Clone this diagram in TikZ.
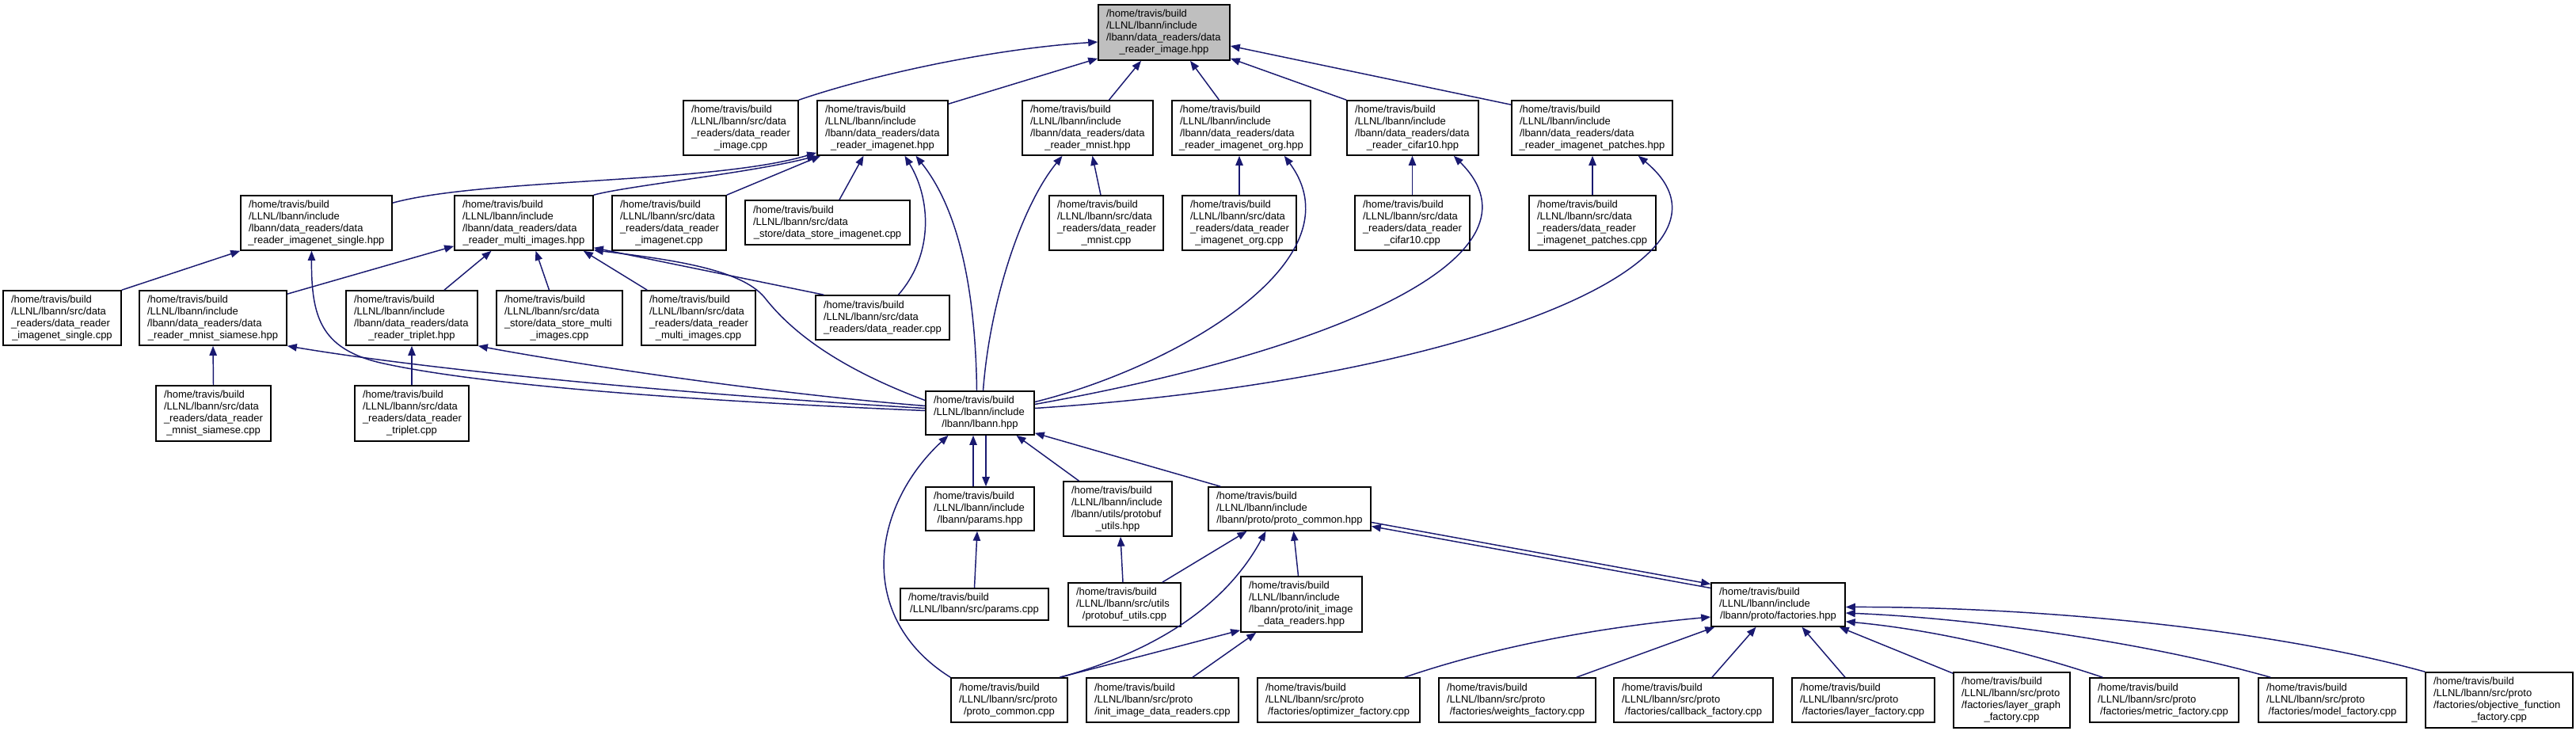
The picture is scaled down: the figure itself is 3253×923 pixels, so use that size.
\documentclass[tikz,border=0pt]{standalone}
\usepackage{fontspec}
\setmainfont{Liberation Sans}
\usetikzlibrary{arrows.meta}
\definecolor{navy}{HTML}{191970}
\definecolor{dgray}{HTML}{BFBFBF}
\newcommand\cl[1]{\makebox[\hsize][c]{#1}}
\newcommand\Lhb{\mbox{/home/travis/build}\\}
\newcommand\Linc{\mbox{/LLNL/lbann/include}\\}
\newcommand\Lsrcd{\mbox{/LLNL/lbann/src/data}\\}
\newcommand\Ldr{\mbox{/lbann/data\_readers/data}\\}
\newcommand\Lrd{\mbox{\_readers/data\_reader}\\}
\newcommand\Lsrcp{\mbox{/LLNL/lbann/src/proto}\\}
\tikzset{
  dbox/.style={draw=black, fill=white, line width=1.2pt, inner xsep=0pt, inner ysep=0pt,
    align=left, font=\fontsize{9.75}{11.25}\selectfont},
  lnk/.style={draw=navy, line width=1.1pt, -{Triangle[length=9pt,width=7pt]}}
}
\newcommand\dnode[7][]{%
  \pgfmathsetmacro\dW{(#5-#3)*0.75}%
  \pgfmathsetmacro\dH{(#6-#4)*0.75}%
  \pgfmathsetmacro\dT{(#5-#3)*0.75-15}%
  \node[dbox,#1,minimum width=\dW pt,minimum height=\dH pt,text width=\dT pt] (#2) at ({(#3+#5)/2},{(#4+#6)/2}) {#7};%
}
\begin{document}
\begin{tikzpicture}[x=0.75pt,y=-0.75pt]
\useasboundingbox (0,0) rectangle (3253,923);
% row 0
\dnode[fill=dgray]{N0}{1387}{6}{1553}{76}{\Lhb\Linc\Ldr\cl{\_reader\_image.hpp}}
% row 1
\dnode{N1}{863}{127}{1008}{196}{\Lhb\Lsrcd\Lrd\cl{\_image.cpp}}
\dnode{N2}{1032}{127}{1197}{196}{\Lhb\Linc\Ldr\cl{\_reader\_imagenet.hpp}}
\dnode{N3}{1291}{127}{1456}{196}{\Lhb\Linc\Ldr\cl{\_reader\_mnist.hpp}}
\dnode{N4}{1480}{127}{1655}{196}{\Lhb\Linc\Ldr\cl{\_reader\_imagenet\_org.hpp}}
\dnode{N5}{1701}{127}{1867}{196}{\Lhb\Linc\Ldr\cl{\_reader\_cifar10.hpp}}
\dnode{N6}{1909}{127}{2112}{196}{\Lhb\Linc\Ldr\cl{\_reader\_imagenet\_patches.hpp}}
% row 2
\dnode{N7}{304}{247}{495}{316}{\Lhb\Linc\Ldr\cl{\_reader\_imagenet\_single.hpp}}
\dnode{N8}{574}{247}{749}{316}{\Lhb\Linc\Ldr\cl{\_reader\_multi\_images.hpp}}
\dnode{N9}{773}{247}{917}{316}{\Lhb\Lsrcd\Lrd\cl{\_imagenet.cpp}}
\dnode{N10}{941}{253}{1149}{309}{\Lhb\Lsrcd\cl{\_store/data\_store\_imagenet.cpp}}
\dnode{N11}{1325}{247}{1469}{316}{\Lhb\Lsrcd\Lrd\cl{\_mnist.cpp}}
\dnode{N12}{1493}{247}{1637}{316}{\Lhb\Lsrcd\Lrd\cl{\_imagenet\_org.cpp}}
\dnode{N13}{1711}{247}{1856}{316}{\Lhb\Lsrcd\Lrd\cl{\_cifar10.cpp}}
\dnode{N14}{1931}{247}{2091}{316}{\Lhb\Lsrcd\Lrd\cl{\_imagenet\_patches.cpp}}
% row 3
\dnode{N15}{4}{367}{153}{436}{\Lhb\Lsrcd\Lrd\cl{\_imagenet\_single.cpp}}
\dnode{N16}{176}{367}{362}{436}{\Lhb\Linc\Ldr\cl{\_reader\_mnist\_siamese.hpp}}
\dnode{N17}{437}{367}{603}{436}{\Lhb\Linc\Ldr\cl{\_reader\_triplet.hpp}}
\dnode{N18}{627}{367}{786}{436}{\Lhb\Lsrcd\mbox{\_store/data\_store\_multi}\\\cl{\_images.cpp}}
\dnode{N19}{810}{367}{954}{436}{\Lhb\Lsrcd\Lrd\cl{\_multi\_images.cpp}}
\dnode{N20}{1030}{373}{1199}{429}{\Lhb\Lsrcd\cl{\_readers/data\_reader.cpp}}
% row 4
\dnode{N21}{197}{487}{342}{557}{\Lhb\Lsrcd\Lrd\cl{\_mnist\_siamese.cpp}}
\dnode{N22}{448}{487}{592}{557}{\Lhb\Lsrcd\Lrd\cl{\_triplet.cpp}}
\dnode{N23}{1169}{494}{1306}{549}{\Lhb\Linc\cl{/lbann/lbann.hpp}}
% row 5
\dnode{N24}{1169}{615}{1306}{670}{\Lhb\Linc\cl{/lbann/params.hpp}}
\dnode{N25}{1343}{608}{1480}{677}{\Lhb\Linc\mbox{/lbann/utils/protobuf}\\\cl{\_utils.hpp}}
\dnode{N26}{1526}{615}{1731}{670}{\Lhb\Linc\cl{/lbann/proto/proto\_common.hpp}}
% row 6
\dnode{N27}{1137}{743}{1324}{783}{\Lhb\cl{/LLNL/lbann/src/params.cpp}}
\dnode{N28}{1349}{736}{1491}{791}{\Lhb\mbox{/LLNL/lbann/src/utils}\\\cl{/protobuf\_utils.cpp}}
\dnode{N29}{1567}{728}{1720}{798}{\Lhb\Linc\mbox{/lbann/proto/init\_image}\\\cl{\_data\_readers.hpp}}
\dnode{N30}{2161}{736}{2330}{791}{\Lhb\Linc\cl{/lbann/proto/factories.hpp}}
% row 7
\dnode{N31}{1201}{856}{1348}{912}{\Lhb\Lsrcp\cl{/proto\_common.cpp}}
\dnode{N32}{1372}{856}{1564}{912}{\Lhb\Lsrcp\cl{/init\_image\_data\_readers.cpp}}
\dnode{N33}{1588}{856}{1793}{912}{\Lhb\Lsrcp\cl{/factories/optimizer\_factory.cpp}}
\dnode{N34}{1817}{856}{2015}{912}{\Lhb\Lsrcp\cl{/factories/weights\_factory.cpp}}
\dnode{N35}{2038}{856}{2239}{912}{\Lhb\Lsrcp\cl{/factories/callback\_factory.cpp}}
\dnode{N36}{2263}{856}{2443}{912}{\Lhb\Lsrcp\cl{/factories/layer\_factory.cpp}}
\dnode{N37}{2467}{849}{2614}{919}{\Lhb\Lsrcp\mbox{/factories/layer\_graph}\\\cl{\_factory.cpp}}
\dnode{N38}{2639}{856}{2827}{912}{\Lhb\Lsrcp\cl{/factories/metric\_factory.cpp}}
\dnode{N39}{2852}{856}{3039}{912}{\Lhb\Lsrcp\cl{/factories/model\_factory.cpp}}
\dnode{N40}{3063}{849}{3249}{919}{\Lhb\Lsrcp\mbox{/factories/objective\_function}\\\cl{\_factory.cpp}}
% edges: top part
\draw[lnk] (N1.north east) .. controls (1100,95) and (1250,62) .. ([shift={(0,12)}]N0.west);
\draw[lnk] ([shift={(0,5)}]N2.north east) -- ([shift={(0,-3)}]N0.south west);
\draw[lnk] ([shift={(27,0)}]N3.north) -- ([shift={(-29,0)}]N0.south);
\draw[lnk] ([shift={(-28,0)}]N4.north) -- ([shift={(33,0)}]N0.south);
\draw[lnk] (N5.north west) -- ([shift={(0,-3)}]N0.south east);
\draw[lnk] ([shift={(0,6)}]N6.north west) -- ([shift={(0,17)}]N0.east);
\draw[lnk] ([shift={(0,10)}]N7.north east) .. controls (610,225) and (900,232) .. ([shift={(0,-4)}]N2.south west);
\draw[lnk] (N8.north east) .. controls (790,235) and (950,218) .. (N2.south west);
\draw[lnk] (N9.north east) -- ([shift={(5,0)}]N2.south west);
\draw[lnk] ([shift={(15,0)}]N10.north) -- ([shift={(-24,0)}]N2.south);
\draw[lnk] ([shift={(20,0)}]N20.north) .. controls (1180,320) and (1175,250) .. ([shift={(28,0)}]N2.south);
\draw[lnk] ([shift={(-4,0)}]N23.north) .. controls (1232,380) and (1215,270) .. ([shift={(42,0)}]N2.south);
\draw[lnk] (N15.north east) -- (N7.south west);
\draw[lnk] ([shift={(0,-3)}]N23.west) .. controls (850,505) and (600,485) .. (480,458) .. controls (405,440) and (393,400) .. ([shift={(-6,0)}]N7.south);
\draw[lnk] ([shift={(0,5)}]N16.north east) -- ([shift={(0,-6)}]N8.south west);
\draw[lnk] ([shift={(41,0)}]N17.north) -- ([shift={(-41,0)}]N8.south);
\draw[lnk] ([shift={(-13,0)}]N18.north) -- ([shift={(15,0)}]N8.south);
\draw[lnk] ([shift={(8,0)}]N19.north west) -- ([shift={(-13,0)}]N8.south east);
\draw[lnk] ([shift={(11,0)}]N20.north west) -- ([shift={(0,-4)}]N8.south east);
\draw[lnk] ([shift={(0,-16)}]N23.west) .. controls (1060,465) and (1000,420) .. (965,375) .. controls (935,340) and (850,328) .. ([shift={(0,-1)}]N8.south east);
\draw[lnk] (N21.north) -- (N16.south);
\draw[lnk] ([shift={(0,-6)}]N23.west) .. controls (900,500) and (560,470) .. (N16.south east);
\draw[lnk] (N22.north) -- (N17.south);
\draw[lnk] ([shift={(0,-9)}]N23.west) .. controls (950,495) and (700,455) .. (N17.south east);
\draw[lnk] ([shift={(-7,0)}]N11.north) -- ([shift={(6,0)}]N3.south);
\draw[lnk] ([shift={(4,0)}]N23.north) .. controls (1250,380) and (1290,260) .. ([shift={(-32,0)}]N3.south);
\draw[lnk] (N12.north) -- (N12.north |- N4.south);
\draw[lnk] ([shift={(0,-14)}]N23.east) .. controls (1480,465) and (1720,330) .. ([shift={(-34,0)}]N4.south east);
\draw[lnk] (N13.north) -- (N13.north |- N5.south);
\draw[lnk] ([shift={(0,-11)}]N23.east) .. controls (1700,440) and (1960,320) .. ([shift={(-32,0)}]N5.south east);
\draw[lnk] (N14.north) -- (N14.north |- N6.south);
\draw[lnk] ([shift={(0,-6)}]N23.east) .. controls (1850,480) and (2230,330) .. ([shift={(-44,0)}]N6.south east);
% edges: lower part
\draw[lnk] ([shift={(-8.5,0)}]N24.north) -- ([shift={(-8.5,0)}]N23.south);
\draw[lnk] ([shift={(7.5,0)}]N23.south) -- ([shift={(7.5,0)}]N24.north);
\draw[lnk] ([shift={(-49,0)}]N25.north) -- ([shift={(46,0)}]N23.south);
\draw[lnk] ([shift={(16,0)}]N26.north west) -- ([shift={(0,-3)}]N23.south east);
\draw[lnk] (N31.north west) .. controls (1080,780) and (1100,640) .. ([shift={(-40,0)}]N23.south);
\draw[lnk] (N27.north) -- ([shift={(-3.5,0)}]N24.south);
\draw[lnk] ([shift={(-2,0)}]N28.north) -- ([shift={(3.5,0)}]N25.south);
\draw[lnk] ([shift={(-24,0)}]N28.north east) -- ([shift={(-54,0)}]N26.south);
\draw[lnk] ([shift={(64,0)}]N31.north) .. controls (1450,825) and (1545,770) .. ([shift={(-30,0)}]N26.south);
\draw[lnk] ([shift={(-4,0)}]N29.north) -- ([shift={(5,0)}]N26.south);
\draw[lnk] ([shift={(64,0)}]N31.north) -- ([shift={(0,-3)}]N29.south west);
\draw[lnk] ([shift={(38,0)}]N32.north) -- ([shift={(20,0)}]N29.south west);
\draw[lnk] ([shift={(0,17)}]N26.east) -- ([shift={(0,-26)}]N30.west);
\draw[lnk] ([shift={(0,-21)}]N30.west) -- ([shift={(0,22)}]N26.east);
\draw[lnk] ([shift={(-20,0)}]N33.north east) .. controls (1900,812) and (2040,790) .. ([shift={(0,15.5)}]N30.west);
\draw[lnk] ([shift={(-25,0)}]N34.north east) -- ([shift={(5,0)}]N30.south west);
\draw[lnk] ([shift={(23.5,0)}]N35.north) -- ([shift={(-28,0)}]N30.south);
\draw[lnk] ([shift={(-23,0)}]N36.north) -- ([shift={(30,0)}]N30.south);
\draw[lnk] ([shift={(0,2)}]N37.north west) -- ([shift={(-8,0)}]N30.south east);
\draw[lnk] ([shift={(17,0)}]N38.north west) .. controls (2550,820) and (2440,795) .. ([shift={(0,-7)}]N30.south east);
\draw[lnk] ([shift={(16,0)}]N39.north west) .. controls (2700,808) and (2480,780) .. ([shift={(0,10.5)}]N30.east);
\draw[lnk] (N40.north west) .. controls (2850,790) and (2550,766) .. ([shift={(0,3)}]N30.east);
\end{tikzpicture}
\end{document}
